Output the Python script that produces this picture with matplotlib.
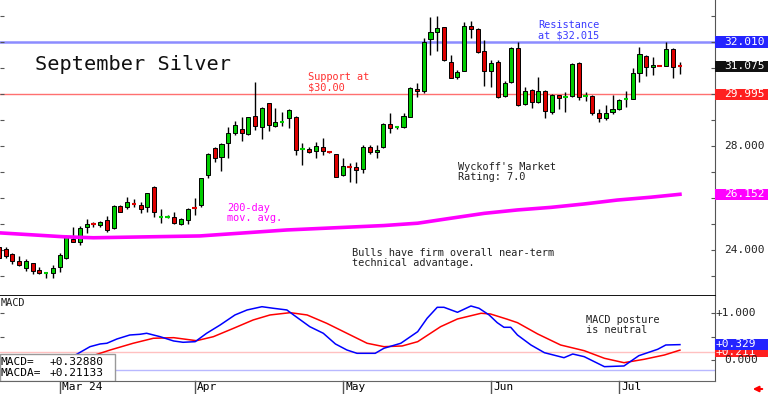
"""September silver daily candles with 200-day MA and MACD panel."""
import matplotlib
matplotlib.use("Agg")
import matplotlib.pyplot as plt
from matplotlib.patches import Rectangle, FancyArrowPatch
from matplotlib.transforms import blended_transform_factory

MONO = "DejaVu Sans Mono"

# -- Data ---------------------------------------------------------------------
# one candle per trading day, index 0 = mid-Feb 2024
opens = [24.14, 24.06, 23.86, 23.59, 23.33, 23.51, 23.24, 23.11, 23.13, 23.37,
         23.69, 24.44, 24.33, 24.89, 25.01, 24.97, 25.16, 24.84, 25.70, 25.68,
         25.79, 25.74, 25.65, 26.43, 25.28, 25.28, 25.27, 25.00, 25.16, 25.65,
         25.74, 26.89, 27.92, 27.58, 28.11, 28.52, 28.65, 28.47, 29.16, 28.73,
         29.65, 28.79, 28.91, 29.08, 29.14, 27.88, 27.88, 27.82, 27.98, 27.79,
         27.70, 26.89, 27.22, 27.21, 27.11, 27.98, 27.77, 27.96, 28.84, 28.72,
         28.75, 29.14, 30.21, 30.14, 32.13, 32.41, 32.58, 31.25, 30.65, 30.91,
         32.64, 32.51, 31.68, 30.89, 31.25, 29.93, 30.48, 31.77, 29.61, 30.16,
         29.71, 30.13, 29.33, 29.97, 29.90, 29.94, 31.19, 29.92, 29.93, 29.27,
         29.08, 29.31, 29.43, 29.80, 29.82, 30.83, 31.47, 31.04, 31.10, 31.09,
         31.73, 31.09]
highs = [24.20, 24.14, 23.89, 23.79, 23.66, 23.52, 23.37, 23.18, 23.43, 23.89,
         24.59, 24.89, 24.93, 25.19, 25.09, 25.13, 25.32, 25.74, 25.74, 26.06,
         25.96, 25.87, 26.21, 26.47, 25.59, 25.36, 25.46, 25.25, 25.61, 26.00,
         26.79, 27.73, 27.96, 28.11, 28.75, 28.98, 29.14, 29.14, 30.48, 29.51,
         29.68, 29.46, 29.31, 29.43, 29.16, 28.11, 27.96, 28.18, 28.31, 27.82,
         27.72, 27.54, 27.34, 27.38, 28.05, 28.05, 28.05, 28.91, 29.27, 28.78,
         29.27, 30.29, 30.44, 32.15, 32.98, 33.02, 32.60, 31.51, 30.93, 32.79,
         32.83, 32.54, 32.09, 31.32, 31.32, 30.51, 31.81, 32.00, 30.27, 30.19,
         30.68, 30.16, 30.01, 29.99, 30.10, 31.19, 31.23, 30.10, 29.97, 29.43,
         29.59, 29.97, 29.82, 30.13, 31.00, 31.83, 31.51, 31.44, 31.11, 32.00,
         31.77, 31.25]
lows = [23.63, 23.69, 23.47, 23.39, 23.20, 23.07, 23.10, 22.93, 22.94, 23.16,
        23.67, 24.31, 24.20, 24.68, 24.89, 24.91, 24.69, 24.81, 25.47, 25.59,
        25.68, 25.42, 25.46, 25.29, 25.06, 25.23, 25.00, 24.96, 25.00, 25.36,
        25.66, 26.77, 27.41, 27.05, 27.54, 28.43, 28.20, 28.45, 28.63, 28.28,
        28.60, 28.75, 28.79, 28.69, 27.66, 27.28, 27.73, 27.56, 27.66, 27.74,
        26.82, 26.87, 26.64, 26.58, 26.96, 27.69, 27.56, 27.92, 28.50, 28.68,
        28.69, 29.11, 29.88, 30.04, 31.51, 31.68, 31.29, 30.61, 30.59, 30.89,
        32.15, 31.57, 30.32, 30.29, 29.84, 29.88, 30.44, 29.56, 29.59, 29.48,
        29.67, 29.08, 29.23, 29.42, 29.33, 29.91, 29.78, 29.75, 29.20, 28.94,
        29.01, 29.23, 29.41, 29.50, 29.80, 30.46, 30.71, 30.74, 31.07, 31.08,
        30.61, 30.77]
closes = [23.69, 23.79, 23.59, 23.43, 23.60, 23.20, 23.11, 23.13, 23.32, 23.82,
          24.56, 24.33, 24.86, 25.01, 24.99, 25.10, 24.78, 25.70, 25.48, 25.87,
          25.77, 25.57, 26.19, 25.48, 25.30, 25.30, 25.04, 25.21, 25.57, 25.63,
          26.77, 27.69, 27.54, 28.08, 28.52, 28.81, 28.52, 29.11, 28.78, 29.48,
          28.82, 28.94, 28.93, 29.39, 27.86, 27.89, 27.77, 28.01, 27.82, 27.77,
          26.83, 27.24, 27.20, 27.09, 27.96, 27.79, 27.86, 28.84, 28.69, 28.74,
          29.16, 30.23, 30.14, 32.00, 32.38, 32.54, 31.32, 30.64, 30.87, 32.63,
          32.51, 31.61, 30.89, 31.19, 29.91, 30.44, 31.77, 29.59, 30.14, 29.71,
          30.13, 29.36, 29.97, 29.87, 29.91, 31.15, 29.91, 29.94, 29.27, 29.10,
          29.27, 29.43, 29.78, 29.81, 30.83, 31.54, 31.06, 31.11, 31.08, 31.73,
          31.06, 31.075]

ma_idx = [0, 9.5, 14, 29.8, 42.7, 57.1, 62.1, 67, 72, 76.9, 81.9, 86.8, 91.7, 96.7, 101]
ma_val = [24.67, 24.52, 24.48, 24.55, 24.78, 24.95, 25.04, 25.23, 25.42, 25.55,
          25.65, 25.78, 25.93, 26.04, 26.152]

macd_idx = [11.5, 13.5, 15.0, 16.0, 17.5, 19.4, 20.9, 21.9, 23.9, 25.9, 27.3, 29.1,
            30.8, 32.8, 35.0, 36.8, 39.0, 40.7, 42.7, 43.7, 46.1, 48.1, 49.9, 51.6,
            53.1, 55.8, 57.1, 59.6, 62.1, 63.5, 65.0, 66.0, 68.0, 70.0, 71.2, 72.7,
            73.9, 74.9, 75.9, 76.9, 78.9, 80.9, 83.8, 85.1, 86.8, 89.8, 92.7, 94.9,
            97.7, 98.9, 101]
macd_val = [0.12, 0.285, 0.343, 0.358, 0.45, 0.535, 0.55, 0.572, 0.499, 0.407, 0.379,
            0.392, 0.572, 0.749, 0.964, 1.071, 1.141, 1.107, 1.071, 0.964, 0.713,
            0.572, 0.343, 0.214, 0.143, 0.143, 0.251, 0.358, 0.606, 0.893, 1.128,
            1.128, 1.021, 1.156, 1.107, 0.964, 0.799, 0.70, 0.70, 0.535, 0.321,
            0.156, 0.049, 0.128, 0.071, -0.143, -0.128, 0.092, 0.229, 0.321, 0.329]
macda_idx = [14.5, 16.5, 19.9, 22.9, 25.9, 29.3, 31.8, 34.8, 37.7, 40.2, 43.2, 45.7,
             48.6, 51.6, 54.6, 57.1, 59.8, 62.1, 65.5, 68.0, 71.5, 72.9, 75.4, 76.9,
             79.9, 83.3, 86.8, 89.8, 92.7, 95.7, 98.7, 101]
macda_val = [0.12, 0.214, 0.358, 0.465, 0.478, 0.413, 0.499, 0.679, 0.857, 0.964,
             1.013, 0.964, 0.786, 0.572, 0.358, 0.285, 0.30, 0.392, 0.713, 0.878,
             1.0, 0.985, 0.872, 0.799, 0.557, 0.321, 0.199, 0.036, -0.058, 0.015,
             0.107, 0.211]

month_idx = [9, 29, 51, 73, 92]
month_lbl = ["Mar 24", "Apr", "May", "Jun", "Jul"]

resistance = 32.01
support = 29.995
last_close = 31.075
ma_last = 26.152
macd_last, macda_last = 0.32880, 0.21133

# -- Figure -------------------------------------------------------------------
W, H = 768, 394
fig = plt.figure(figsize=(W / 100, H / 100), dpi=100)
ax = fig.add_axes([0, 1 - 296 / H, 715 / W, 296 / H])
axm = fig.add_axes([0, 1 - 381 / H, 715 / W, 85 / H])

def ftext(x, y, s, **kw):
    # place text by pixel position (y from top)
    kw.setdefault("family", MONO)
    fig.text(x / W, 1 - y / H, s, **kw)

# candles
up_c, dn_c = "#00cc00", "#dd0000"
for i, (o, h, l, c) in enumerate(zip(opens, highs, lows, closes)):
    col = up_c if c >= o else dn_c
    if h - l > 0.05:
        ax.vlines(i, l, h, color="black", lw=1, zorder=2)
    if abs(c - o) < 0.05:
        ax.hlines((o + c) / 2, i - 0.33, i + 0.33, color=col, lw=1.5, zorder=3)
    else:
        ax.bar(i, c - o, bottom=o, width=0.6, color=col, edgecolor="black",
               lw=0.7, zorder=3)

ax.plot(ma_idx, ma_val, color="#ff00ff", lw=2.6, zorder=4)
ax.axhline(resistance, color="#8c8cff", lw=1.8, zorder=1)
ax.axhline(support, color="#ff7070", lw=1, zorder=1)

ax.set_xlim(0.15, 106.2)
ax.set_ylim(22.24, 33.625)
ax.set_xticks([])
ax.set_yticks(range(23, 34))
ax.tick_params(axis="y", direction="in", length=3, left=True, right=True,
               labelleft=False, labelright=False, color="#555555")
for s in ["top", "left"]:
    ax.spines[s].set_visible(False)
ax.spines["right"].set_color("#555555")
ax.spines["bottom"].set_color("black")
ax.spines["bottom"].set_linewidth(1.3)

# MACD panel
axm.axhline(0.18, color="#ffc0c0", lw=1)
axm.axhline(-0.22, color="#b8b8ff", lw=1)
axm.plot(macd_idx, macd_val, color="#0000ff", lw=1.1, zorder=3)
axm.plot(macda_idx, macda_val, color="#ff0000", lw=1.1, zorder=2)
axm.set_xlim(0.15, 106.2)
axm.set_ylim(-0.45, 1.37)
axm.set_xticks([])
axm.set_yticks([0, 0.5, 1.0])
axm.tick_params(axis="y", direction="in", length=3, left=True, right=True,
                labelleft=False, labelright=False, color="#555555")
for s in ["top", "left"]:
    axm.spines[s].set_visible(False)
axm.spines["right"].set_color("#555555")
axm.spines["bottom"].set_color("#666666")

# readout box
axm.add_patch(Rectangle((0, 0), 115 / 715, 27 / 85, transform=axm.transAxes,
                        facecolor="white", edgecolor="#999999", lw=1, zorder=5))
for yy, name, val in [(361.7, "MACD=", macd_last), (373.3, "MACDA=", macda_last)]:
    axm.text(0.001, (381 - yy) / 85, name, transform=axm.transAxes, family=MONO,
             fontsize=8, va="center", zorder=6)
    axm.text(50 / 715, (381 - yy) / 85, f"{val:+.5f}", transform=axm.transAxes,
             family=MONO, fontsize=8, va="center", zorder=6)

# month ticks + labels
for i, lbl in zip(month_idx, month_lbl):
    axm.axvline(i, ymin=-13 / 85, ymax=0, color="#555555", lw=1, clip_on=False)
    axm.text(i + 0.35, -6.5 / 85, lbl, transform=blended_transform_factory(
        axm.transData, axm.transAxes), family=MONO, fontsize=8, va="center")

# right-hand value tags
def tag(axis, val, text, fc, tc, h, x0=724, z=6):
    tr = blended_transform_factory(fig.transFigure, axis.transData)
    if fc is not None:
        axis.add_patch(Rectangle((715 / W, val - h / 2), 53 / W, h, transform=tr,
                                 facecolor=fc, edgecolor="none", clip_on=False,
                                 zorder=z))
    axis.text(x0 / W, val, text, transform=tr, color=tc, family=MONO, fontsize=8,
              va="center", zorder=z + 0.5, clip_on=False)

tag(ax, resistance, f"{resistance:.3f}", "#2424ff", "white", 0.44)
tag(ax, last_close, f"{last_close:.3f}", "#111111", "white", 0.44)
tag(ax, support, f"{support:.3f}", "#ff2020", "white", 0.44)
tag(ax, ma_last, f"{ma_last:.3f}", "#ff00ff", "white", 0.44)
tag(ax, 28.0, "28.000", None, "#222222", 0)
tag(ax, 24.0, "24.000", None, "#222222", 0)
tag(axm, 1.0, "+1.000", None, "#222222", 0, x0=716)
tag(axm, 0.0, "0.000", None, "#222222", 0)
# MACDA tag sits mostly behind the MACD tag
tag(axm, macda_last - 0.03, f"{macda_last:+.3f}", "#ff2020", "white", 0.24,
    x0=716, z=6)
tag(axm, macd_last + 0.01, f"{macd_last:+.3f}", "#2424ff", "white", 0.24,
    x0=716, z=8)

# annotations
ftext(35, 65, "September Silver", fontsize=14.6, va="center", color="#111111")
ftext(308, 82, "Support at\n$30.00", fontsize=7.4, va="center", color="#ff3030",
      linespacing=1.0)
ftext(538, 30, "Resistance\nat $32.015", fontsize=7.4, va="center", color="#3a3aff",
      linespacing=1.0)
ftext(458, 172, "Wyckoff's Market\nRating: 7.0", fontsize=7.4, va="center",
      color="#222222", linespacing=1.0)
ftext(227, 213, "200-day\nmov. avg.", fontsize=7.4, va="center", color="#ff00ff",
      linespacing=1.0)
ftext(352, 258, "Bulls have firm overall near-term\ntechnical advantage.",
      fontsize=7.4, va="center", color="#222222", linespacing=1.0)
ftext(586, 325, "MACD posture\nis neutral", fontsize=7.4, va="center",
      color="#222222", linespacing=1.0)
ftext(1, 303, "MACD", fontsize=7.4, va="center", color="#222222")

# little red arrow in the corner
fig.add_artist(FancyArrowPatch(
    (765 / W, 1 - 389 / H), (750 / W, 1 - 389 / H), transform=fig.transFigure,
    arrowstyle="-|>", mutation_scale=8, color="#ff0000", lw=1.5))

fig.savefig("out.png", dpi=100, facecolor="white")
plt.close(fig)
